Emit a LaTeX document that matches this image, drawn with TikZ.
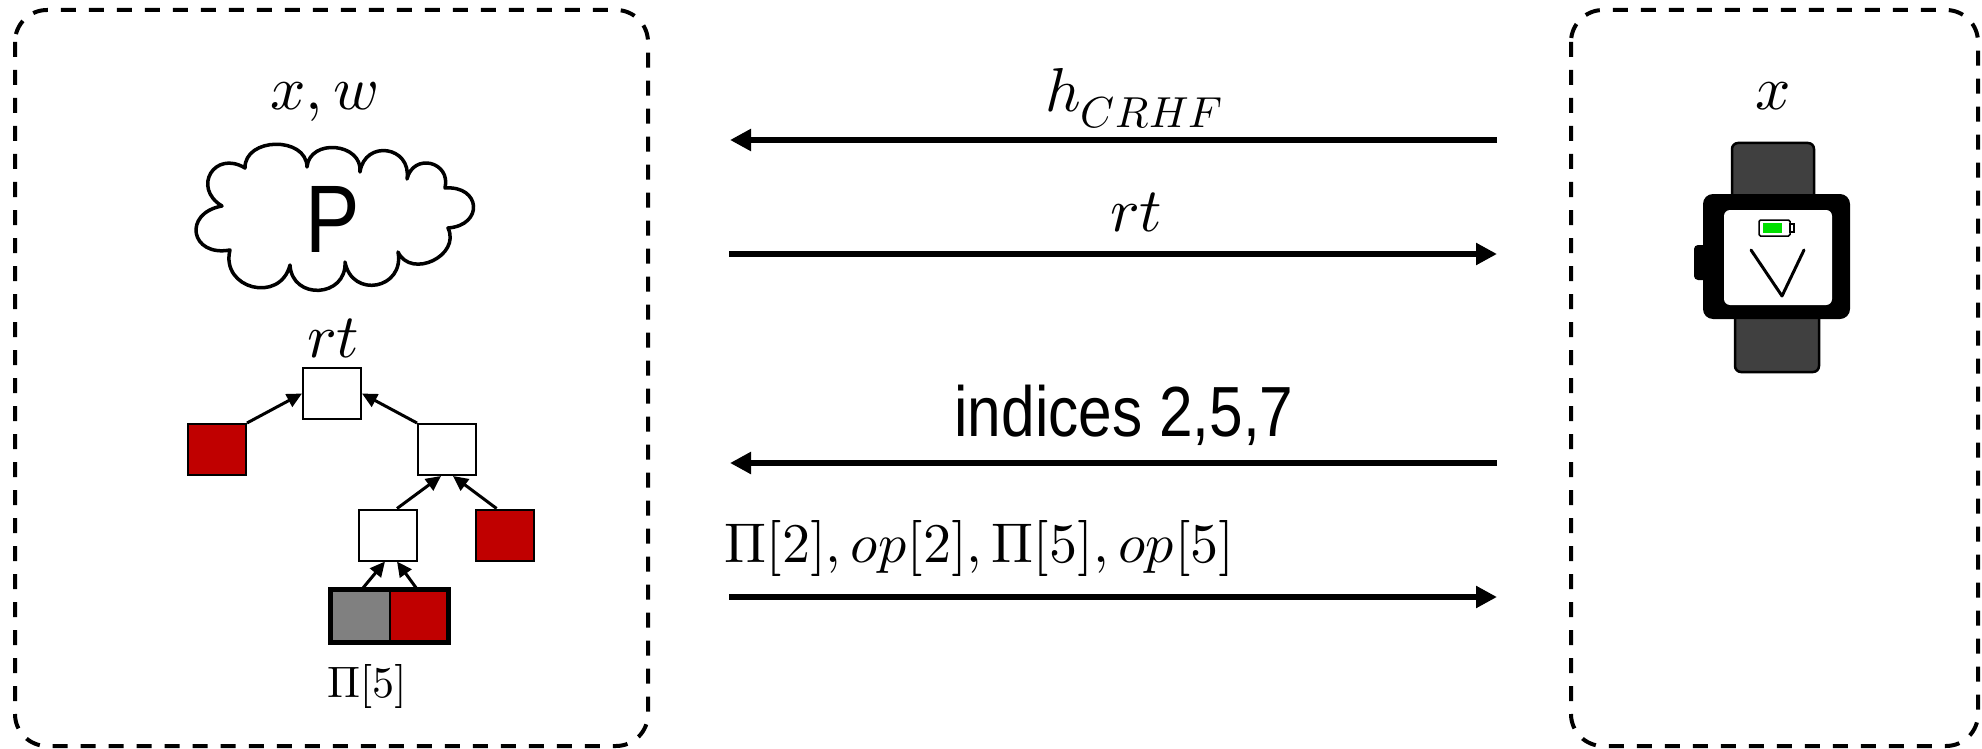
\documentclass[tikz,border=0pt]{standalone}
\usepackage{fontspec}
\usepackage{unicode-math}
\setmathfont{Latin Modern Math}
\newfontfamily\lightsans[FakeStretch=0.85]{Liberation Sans}
\usetikzlibrary{arrows.meta,calc}

\definecolor{leafred}{HTML}{C00000}
\definecolor{leafgray}{HTML}{808080}
\definecolor{strapgray}{HTML}{404040}
\definecolor{battgreen}{HTML}{00E000}

\begin{document}
\begin{tikzpicture}[x=1pt,y=-1pt,
  party/.style={draw, line width=4pt, dash pattern=on 15pt off 13pt, rounded corners=32pt},
  msg/.style={line width=6pt, -{Triangle[length=21pt,width=21pt]}},
  treebox/.style={draw, line width=2pt, minimum width=58pt, minimum height=51pt, inner sep=0pt, fill=white},
  redbox/.style={treebox, fill=leafred},
  graybox/.style={treebox, fill=leafgray},
  edge/.style={line width=3pt, -{Triangle[length=15pt,width=14pt]}},
  mathlbl/.style={inner sep=0pt, font=\fontsize{62}{74}\selectfont},
  smalllbl/.style={inner sep=0pt, font=\fontsize{44}{52}\selectfont},
  sanslbl/.style={inner sep=0pt, font=\lightsans\fontsize{71}{80}\selectfont},
]
\useasboundingbox (0,0) rectangle (1982,749);

% the two parties
\draw[party] (15,10) rectangle (648,746);
\draw[party] (1571,10) rectangle (1978,746);

% prover side: inputs and cloud
\node[mathlbl, anchor=base] (xw) at (324,110) {$x, w$};

\coordinate (d1) at (222,206);
\coordinate (d2) at (245,168);
\coordinate (d3) at (307,167);
\coordinate (d4) at (360,172);
\coordinate (d5) at (407,179);
\coordinate (d6) at (445,188);
\coordinate (d7) at (448,228);
\coordinate (d8) at (398,252);
\coordinate (d9) at (345,262);
\coordinate (d10) at (290,265);
\coordinate (d11) at (230,250);
\draw[line width=3.5pt, line join=round, fill=white] (d11)
  .. controls ($(d11)!0.9!90:(d1)$) and ($(d1)!0.9!-90:(d11)$) .. (d1)
  .. controls ($(d1)!0.8!90:(d2)$) and ($(d2)!0.8!-90:(d1)$) .. (d2)
  .. controls ($(d2)!0.5!90:(d3)$) and ($(d3)!0.5!-90:(d2)$) .. (d3)
  .. controls ($(d3)!0.55!90:(d4)$) and ($(d4)!0.55!-90:(d3)$) .. (d4)
  .. controls ($(d4)!0.7!90:(d5)$) and ($(d5)!0.7!-90:(d4)$) .. (d5)
  .. controls ($(d5)!0.7!90:(d6)$) and ($(d6)!0.7!-90:(d5)$) .. (d6)
  .. controls ($(d6)!0.9!90:(d7)$) and ($(d7)!0.9!-90:(d6)$) .. (d7)
  .. controls ($(d7)!0.55!90:(d8)$) and ($(d8)!0.55!-90:(d7)$) .. (d8)
  .. controls ($(d8)!0.7!90:(d9)$) and ($(d9)!0.7!-90:(d8)$) .. (d9)
  .. controls ($(d9)!0.65!90:(d10)$) and ($(d10)!0.65!-90:(d9)$) .. (d10)
  .. controls ($(d10)!0.65!90:(d11)$) and ($(d11)!0.65!-90:(d10)$) .. (d11)
  -- cycle;
\node[inner sep=0pt, font=\lightsans\fontsize{96}{100}\selectfont] (prover) at (333,219) {P};

% Merkle tree
\node[mathlbl, anchor=base] (rtlbl) at (333,357) {$rt$};
\node[treebox] (root) at (332,393.5) {};
\node[redbox] (lred) at (217,449.5) {};
\node[treebox] (rint) at (447,449.5) {};
\node[treebox] (lint) at (388,535) {};
\node[redbox] (rred) at (505,535) {};
\node[graybox] (lgray) at (360.5,616) {};
\node[redbox] (lred2) at (418.5,616) {};
\draw[line width=4.5pt] (lgray.north west) rectangle (lred2.south east);
\node[smalllbl, anchor=base] (pi5) at (367,697) {$\Pi[5]$};

\draw[edge] (lred.north east) -- (root.west);
\draw[edge] (rint.north west) -- (root.east);
\draw[edge] ($(lint.north west)!0.65!(lint.north east)$) -- ($(rint.south west)!0.4!(rint.south east)$);
\draw[edge] ($(rred.north west)!0.36!(rred.north east)$) -- ($(rint.south west)!0.6!(rint.south east)$);
\draw[edge] ($(lgray.north west)!0.52!(lgray.north east)$) -- ($(lint.south west)!0.45!(lint.south east)$);
\draw[edge] ($(lred2.north west)!0.48!(lred2.north east)$) -- ($(lint.south west)!0.65!(lint.south east)$);

% messages
\coordinate (l1) at (730,140);  \coordinate (r1) at (1497,140);
\coordinate (l2) at (729,254);  \coordinate (r2) at (1497,254);
\coordinate (l3) at (730,463);  \coordinate (r3) at (1497,463);
\coordinate (l4) at (729,597);  \coordinate (r4) at (1497,597);
\draw[msg] (r1) -- (l1);
\draw[msg] (l2) -- (r2);
\draw[msg] (r3) -- (l3);
\draw[msg] (l4) -- (r4);
\node[mathlbl, anchor=base] (hlbl) at (1134,112) {$h_{CRHF}$};
\node[mathlbl, anchor=base] (rtmsg) at (1136,231) {$rt$};
\node[sanslbl, anchor=base] (idx) at (1124,436) {indices 2,5,7};
\node[mathlbl, font=\fontsize{56}{66}\selectfont, anchor=base west] (open) at (724,562) {$\Pi[2], op[2], \Pi[5], op[5]$};

% verifier side: smartwatch
\node[mathlbl, anchor=base] (xv) at (1773,110) {$x$};
\draw[line width=2.5pt, fill=strapgray, rounded corners=6pt] (1732,143) rectangle (1814,200);
\draw[line width=2.5pt, fill=strapgray, rounded corners=6pt] (1735,312) rectangle (1819,372);
\fill[rounded corners=4pt] (1694,245) rectangle (1708,280);
\fill[rounded corners=10pt] (1703,194) rectangle (1850,319);
\fill[white, rounded corners=6pt] (1724,210) rectangle (1832,305);
\draw[line width=1.5pt, rounded corners=1.5pt] (1759,220) rectangle (1790,236);
\fill[battgreen] (1763,223) rectangle (1782,233);
\draw[line width=1.5pt] (1790,224) rectangle (1794,232);
\draw[line width=3pt, line join=round, line cap=round] (1751,250) -- (1782,296) -- (1804,250);
\end{tikzpicture}
\end{document}
